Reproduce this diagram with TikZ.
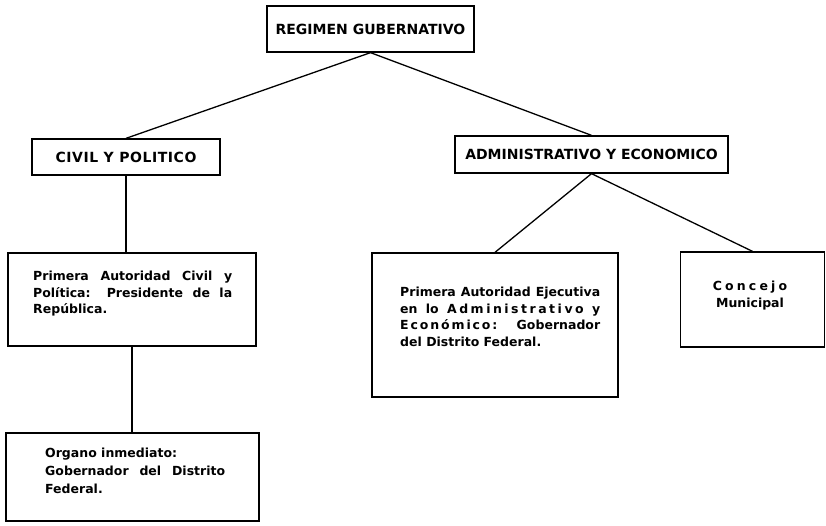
\documentclass[tikz,border=0pt]{standalone}
\usepackage{fontspec}
\setmainfont{DejaVu Sans}
\usetikzlibrary{calc}
\hyphenpenalty=10000
\newcommand{\espaciado}[2]{{\addfontfeature{LetterSpace=#1}#2}}
\tikzset{
    caja/.style={draw, line width=1.3pt, inner sep=0pt},
    titulo/.style={font=\bfseries\fontsize{14}{16}\selectfont},
    parrafo/.style={font=\bfseries\fontsize{12.5}{16.5}\selectfont, align=justify, inner sep=0pt, anchor=north west},
    rama/.style={line width=1.3pt},
}

\begin{document}
\begin{tikzpicture}[x=1pt,y=-1pt]
    \useasboundingbox (0,0) rectangle (826,526);
    % cajas
    \node[caja, titulo, minimum width=207pt, minimum height=46pt] (regimen) at (370.5,29) {REGIMEN GUBERNATIVO};
    \node[caja, titulo, minimum width=188pt, minimum height=36pt] (civil) at (126,157) {\espaciado{4}{CIVIL Y POLITICO}};
    \node[caja, titulo, minimum width=273pt, minimum height=37pt] (admin) at (591.5,154.5) {ADMINISTRATIVO Y ECONOMICO};
    \node[caja, minimum width=248pt, minimum height=93pt] (presidente) at (132,299.5) {};
    \node[caja, minimum width=246pt, minimum height=144pt] (ejecutiva) at (495,325) {};
    \node[caja, minimum width=144pt, minimum height=95pt] (concejo) at (752.5,299.5) {};
    \node[caja, minimum width=253pt, minimum height=88pt] (organo) at (132.5,477) {};
    % textos
    \node[parrafo, text width=199pt] (presidentetxt) at (33,271)
        {Primera Autoridad Civil y\linebreak Política: Presidente de la\linebreak República.};
    \node[parrafo, text width=200pt] (ejecutivatxt) at (400,287)
        {Primera Autoridad Ejecutiva\linebreak en lo \espaciado{20}{Administrativo} y\linebreak \espaciado{15}{Económico:} Gobernador\linebreak del Distrito Federal.};
    \node[parrafo, text width=180pt, font=\bfseries\fontsize{12.5}{18}\selectfont] (organotxt) at (45,448)
        {Organo inmediato:\\Gobernador del Distrito\linebreak Federal.};
    \node[parrafo, anchor=north, align=center, font=\bfseries\fontsize{12.5}{17}\selectfont] (concejotxt) at (750,281)
        {\espaciado{25}{Concejo}\\Municipal};
    % ramas
    \draw[rama] (regimen.south) -- (civil.north);
    \draw[rama] (regimen.south) -- (admin.north);
    \draw[rama] (civil.south) -- (civil.south |- presidente.north);
    \draw[rama] (presidente.south) -- (presidente.south |- organo.north);
    \draw[rama] (admin.south) -- (ejecutiva.north);
    \draw[rama] (admin.south) -- (concejo.north);
\end{tikzpicture}
\end{document}
